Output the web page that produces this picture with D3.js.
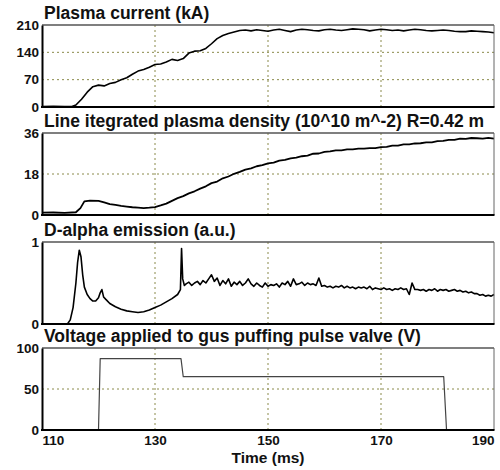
<!DOCTYPE html>
<html>
<head>
<meta charset="utf-8">
<script src="https://cdn.jsdelivr.net/npm/d3@7"></script>
<style>
  body { margin: 0; background: #fff; }
  text { font-family: "Liberation Sans", Arial, sans-serif; font-weight: bold; fill: #111; }
</style>
</head>
<body>
<script>
// time axis ticks (ms)
const timeTicks = [110, 130, 150, 170, 190];

// Plasma current (kA)
const currentT = [110, 112, 114, 115.3, 116, 117, 118, 119, 120, 121, 122, 123, 124, 125, 126, 127, 128, 129, 130,
  131, 132, 133, 134, 135, 136, 137, 138, 139, 140, 141, 142, 143, 144, 145, 146, 147, 148, 149, 150,
  151, 152, 153, 154, 155, 156, 157, 158, 159, 160, 161, 162, 163, 164, 165, 166, 167, 168, 169, 170,
  171, 172, 173, 174, 175, 176, 177, 178, 179, 180, 181, 182, 183, 184, 185, 186, 187, 188, 189, 190];
const currentV = [1, 2, 1, 1, 5, 20, 38, 52, 56, 54, 60, 63, 70, 75, 84, 92, 96, 102, 109,
  110, 115, 122, 119, 124, 138, 143, 144, 150, 162, 175, 183, 188, 192, 196, 197, 195, 198, 196, 194,
  197, 199, 196, 193, 197, 199, 198, 196, 195, 198, 199, 197, 196, 198, 200, 199, 198, 195, 197, 199,
  198, 196, 197, 195, 197, 199, 198, 196, 195, 196, 197, 196, 194, 193, 193, 195, 194, 193, 192, 190];

// Line integrated plasma density (10^10 m^-2)
const densityT = [110, 112, 114, 116, 116.8, 117.5, 118.5, 120, 121, 122, 123, 124, 125, 126, 127, 128, 129, 130,
  131, 132, 133, 134, 135, 136, 137, 138, 139, 140, 141, 142, 143, 144, 145, 146, 147, 148, 149, 150,
  151, 152, 153, 154, 155, 156, 157, 158, 159, 160, 161, 162, 163, 164, 165, 166, 167, 168, 169, 170,
  171, 172, 173, 174, 175, 176, 177, 178, 179, 180, 181, 182, 183, 184, 185, 186, 187, 188, 189, 190];
const densityV = [1.0, 1.1, 0.9, 1.2, 3.0, 6.0, 6.3, 6.2, 5.5, 4.8, 4.4, 4.0, 3.7, 3.4, 3.2, 3.0, 3.2, 3.5,
  4.2, 5.0, 6.2, 7.4, 8.3, 9.5, 10.4, 11.6, 12.6, 14.0, 14.7, 16.1, 16.9, 18.1, 18.9, 19.9, 20.5, 21.4, 21.9, 22.7,
  23.0, 23.9, 24.2, 24.9, 25.2, 25.8, 26.1, 26.9, 27.0, 27.7, 27.9, 28.4, 28.4, 28.8, 28.8, 29.1, 29.1, 29.4, 29.4, 29.8,
  29.9, 30.5, 30.5, 31.0, 31.0, 31.4, 31.5, 31.9, 31.9, 32.4, 32.5, 33.0, 33.0, 33.5, 33.4, 33.8, 33.7, 33.5, 33.9, 33.5];

// D-alpha emission (a.u.)
const dalphaT = [110, 114.5, 115, 115.5, 116, 116.3, 116.6, 116.9, 117.2, 117.5, 118, 118.5, 119, 119.5, 120, 120.3,
  120.6, 120.9, 121.3, 122, 123, 124, 125, 126, 127, 128, 129, 130, 131, 132, 133, 134, 134.5, 134.7, 134.9, 135.2,
  135.5, 136, 136.5, 137, 137.5, 138, 138.5, 139, 139.5, 140, 140.5, 141, 141.5, 142, 142.5, 143, 143.5, 144, 144.5,
  145, 145.5, 146, 146.5, 147, 147.5, 148, 148.5, 149, 149.5, 150, 150.5, 151, 151.5, 152, 152.5, 153, 153.5, 154,
  154.5, 155, 155.5, 156, 156.5, 157, 157.5, 158, 158.5, 159, 159.5, 160, 160.5, 161, 161.5, 162, 162.5, 163, 163.5,
  164, 164.5, 165, 165.5, 166, 166.5, 167, 167.5, 168, 168.5, 169, 169.5, 170, 170.5, 171, 171.5, 172, 172.5, 173,
  173.5, 174, 174.5, 175, 175.5, 176, 176.5, 177, 177.5, 178, 178.5, 179, 179.5, 180, 180.5, 181, 181.5, 182, 182.5,
  183, 183.5, 184, 184.5, 185, 185.5, 186, 186.5, 187, 187.5, 188, 188.5, 189, 189.5, 190];
const dalphaV = [0, 0, 0.05, 0.2, 0.5, 0.75, 0.9, 0.82, 0.6, 0.45, 0.36, 0.31, 0.28, 0.28, 0.32, 0.38,
  0.42, 0.33, 0.3, 0.25, 0.21, 0.18, 0.16, 0.15, 0.14, 0.15, 0.17, 0.2, 0.23, 0.27, 0.31, 0.36, 0.42, 0.92, 0.55, 0.47,
  0.49, 0.51, 0.47, 0.50, 0.52, 0.48, 0.53, 0.50, 0.55, 0.60, 0.52, 0.56, 0.47, 0.53, 0.49, 0.55, 0.46, 0.51, 0.48,
  0.52, 0.47, 0.50, 0.55, 0.49, 0.46, 0.50, 0.47, 0.45, 0.50, 0.46, 0.48, 0.47, 0.49, 0.45, 0.50, 0.48, 0.52, 0.46,
  0.55, 0.48, 0.49, 0.51, 0.47, 0.50, 0.48, 0.49, 0.47, 0.56, 0.46, 0.47, 0.45, 0.46, 0.44, 0.46, 0.45, 0.47, 0.44,
  0.46, 0.44, 0.45, 0.43, 0.45, 0.44, 0.45, 0.43, 0.46, 0.42, 0.44, 0.43, 0.42, 0.44, 0.42, 0.43, 0.41, 0.43, 0.42,
  0.44, 0.42, 0.43, 0.36, 0.50, 0.42, 0.42, 0.41, 0.42, 0.40, 0.42, 0.41, 0.43, 0.40, 0.42, 0.41, 0.42, 0.40, 0.41,
  0.42, 0.40, 0.41, 0.39, 0.40, 0.38, 0.39, 0.37, 0.37, 0.35, 0.36, 0.34, 0.35, 0.34, 0.36];

// Voltage applied to gas puffing pulse valve (V)
const voltageT = [110, 120, 120.3, 134.6, 135, 181.1, 181.6, 190];
const voltageV = [0, 0, 87, 87, 65, 65, 0, 0];

const titles = [
  "Plasma current (kA)",
  "Line itegrated plasma density (10^10 m^-2) R=0.42 m",
  "D-alpha emission (a.u.)",
  "Voltage applied to gus puffing pulse valve (V)"
];
const yTicks = [[0, 70, 140, 210], [0, 18, 36], [0, 1], [0, 50, 100]];
const yGrid = [[70, 140], [18], [], [50]];
const series = [
  { t: currentT, v: currentV, color: "#000", w: 1.6 },
  { t: densityT, v: densityV, color: "#000", w: 1.8 },
  { t: dalphaT, v: dalphaV, color: "#000", w: 1.6 },
  { t: voltageT, v: voltageV, color: "#444", w: 1.2 }
];

const width = 500, height = 470;
const left = 42, right = 494;
const panelTops = [25, 133, 242, 348];
const panelH = 82;

const svg = d3.select("body").append("svg")
  .attr("width", width)
  .attr("height", height);

const x = d3.scaleLinear().domain([110, 190]).range([left, right]);

titles.forEach((title, i) => {
  const top = panelTops[i], bottom = top + panelH;
  const ticks = yTicks[i];
  const y = d3.scaleLinear().domain([0, d3.max(ticks)]).range([bottom, top]);
  const g = svg.append("g");

  // grid
  g.selectAll(".vg").data(timeTicks.slice(1, -1)).enter().append("line")
    .attr("x1", d => x(d)).attr("x2", d => x(d))
    .attr("y1", top).attr("y2", bottom)
    .attr("stroke", "#8a8a4a").attr("stroke-width", 1).attr("stroke-dasharray", "2,3");
  g.selectAll(".hg").data(yGrid[i]).enter().append("line")
    .attr("x1", left).attr("x2", right)
    .attr("y1", d => y(d)).attr("y2", d => y(d))
    .attr("stroke", "#8a8a4a").attr("stroke-width", 1).attr("stroke-dasharray", "2,3");

  // data line
  const pts = series[i].t.map((t, k) => [t, series[i].v[k]]);
  g.append("path")
    .datum(pts)
    .attr("fill", "none")
    .attr("stroke", series[i].color)
    .attr("stroke-width", series[i].w)
    .attr("stroke-linejoin", "round")
    .attr("d", d3.line().x(d => x(d[0])).y(d => y(d[1])));

  // frame: top/right lighter, left/bottom black
  g.append("line").attr("x1", left).attr("x2", right).attr("y1", top).attr("y2", top)
    .attr("stroke", "#555").attr("stroke-width", 1.5);
  g.append("line").attr("x1", right).attr("x2", right).attr("y1", top).attr("y2", bottom)
    .attr("stroke", "#666").attr("stroke-width", 1);

  // y axis
  const ya = g.append("g")
    .attr("transform", `translate(${left},0)`)
    .call(d3.axisLeft(y).tickValues(ticks).tickFormat(d3.format("d")).tickSize(0).tickPadding(3));
  ya.select(".domain").attr("stroke", "#000").attr("stroke-width", 2);
  ya.selectAll("text").style("font-size", "13.5px").attr("fill", "#111");

  // bottom edge
  g.append("line").attr("x1", left - 1).attr("x2", right + 0.5).attr("y1", bottom).attr("y2", bottom)
    .attr("stroke", "#000").attr("stroke-width", 2);

  // title
  g.append("text")
    .attr("x", left + 2)
    .attr("y", top - 6)
    .style("font-size", "17.5px")
    .text(title);

  // time axis on last panel
  if (i === titles.length - 1) {
    const xa = g.append("g")
      .attr("transform", `translate(0,${bottom})`)
      .call(d3.axisBottom(x).tickValues(timeTicks).tickSize(0).tickPadding(5));
    xa.select(".domain").remove();
    xa.selectAll("text").style("font-size", "13.5px").attr("fill", "#111")
      .attr("text-anchor", (d, k) => k === 0 ? "start" : k === timeTicks.length - 1 ? "end" : "middle");
    svg.append("text")
      .attr("x", x(150))
      .attr("y", bottom + 33)
      .attr("text-anchor", "middle")
      .style("font-size", "15.5px")
      .text("Time (ms)");
  }
});
</script>
</body>
</html>
